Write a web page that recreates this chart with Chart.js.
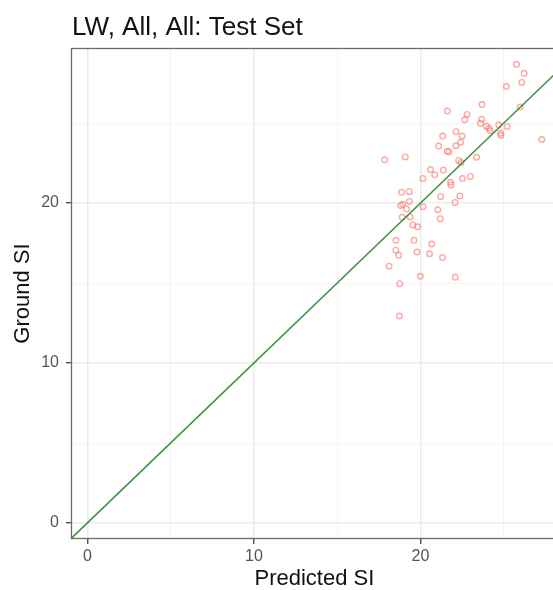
<!DOCTYPE html>
<html>
<head>
<meta charset="utf-8">
<script src="https://cdn.jsdelivr.net/npm/chart.js@4.4.1/dist/chart.umd.min.js"></script>
<style>
    html, body { margin: 0; padding: 0; background: #fff; overflow: hidden; }
    .wrap { width: 553px; height: 590px; overflow: hidden; position: relative; }
    canvas { display: block; }
</style>
</head>
<body>
<div class="wrap"><canvas id="scatter" width="562" height="590"></canvas></div>
<script>
// =========================================================================
// DATA
// =========================================================================
const predicted = [
    25.76, 26.22, 26.08, 25.15, 23.69, 25.98, 21.61, 22.79, 22.66, 23.67,
    23.60, 23.96, 24.11, 24.18, 24.69, 25.20, 24.80, 24.83, 27.28, 22.13,
    21.33, 22.49, 22.41, 22.13, 21.09, 21.60, 21.70, 17.85, 19.08, 22.29,
    22.43, 23.36, 20.60, 21.37, 20.85, 20.14, 21.80, 21.83, 22.52, 22.99,
    18.86, 19.32, 21.21, 22.36, 19.33, 22.07, 18.81, 18.93, 19.17, 20.15,
    21.04, 18.90, 19.38, 21.18, 19.54, 19.83, 18.52, 19.61, 20.67, 18.52,
    18.69, 19.79, 20.54, 21.32, 18.11, 19.99, 22.08, 18.75, 18.73
];
const ground = [
    28.67, 28.11, 27.54, 27.28, 26.16, 26.00, 25.75, 25.54, 25.20, 25.23,
    24.99, 24.80, 24.67, 24.52, 24.89, 24.79, 24.36, 24.23, 23.97, 24.46,
    24.19, 24.19, 23.80, 23.58, 23.56, 23.24, 23.20, 22.70, 22.88, 22.66,
    22.54, 22.86, 22.09, 22.06, 21.76, 21.54, 21.30, 21.13, 21.53, 21.66,
    20.67, 20.71, 20.41, 20.44, 20.10, 20.04, 19.84, 19.92, 19.63, 19.77,
    19.58, 19.11, 19.13, 19.02, 18.63, 18.51, 17.67, 17.67, 17.44, 17.05,
    16.73, 16.94, 16.83, 16.59, 16.05, 15.42, 15.36, 14.96, 12.94
];
const refLine    = [-1, 30];               // y = x identity line ends
const gridTicks  = [0, 5, 10, 15, 20, 25];
const labelTicks = [0, 10, 20];

const xRange = [-0.98, 28.24];
const yRange = [-1.0, 29.69];

// =========================================================================
// STYLE
// =========================================================================
const FONT      = "'Liberation Sans', Arial, sans-serif";
const pointCol  = 'rgba(248,118,109,0.62)';
const lineCol   = '#3f903f';
const majorGrid = '#ebebeb';
const minorGrid = '#f4f4f4';
const tickText  = '#555555';

const isMajor = v => labelTicks.includes(v);

const axisCommon = {
    type: 'linear',
    afterBuildTicks: axis => { axis.ticks = gridTicks.map(v => ({ value: v })); },
    grid: {
        color: c => isMajor(c.tick.value) ? majorGrid : minorGrid,
        lineWidth: c => isMajor(c.tick.value) ? 1.5 : 1,
        tickColor: c => isMajor(c.tick.value) ? '#333' : 'rgba(0,0,0,0)',
        tickWidth: 1.2,
        tickLength: 5,
        drawTicks: true
    },
    border: { display: false },
    ticks: {
        color: tickText,
        font: { family: FONT, size: 16 },
        maxRotation: 0,
        autoSkip: false,
        callback: v => isMajor(v) ? String(v) : ''
    }
};

// panel border + title drawn at the panel's left edge
const panelPlugin = {
    id: 'panel',
    afterDraw(chart) {
        const { ctx, chartArea: a } = chart;
        ctx.save();
        ctx.strokeStyle = '#6a6a6a';
        ctx.lineWidth = 1.3;
        ctx.strokeRect(a.left + 0.5, a.top + 0.5, a.right - a.left - 1, a.bottom - a.top - 1);
        ctx.fillStyle = '#111';
        ctx.font = `26px ${FONT}`;
        ctx.textAlign = 'left';
        ctx.textBaseline = 'alphabetic';
        ctx.fillText('LW, All, All: Test Set', a.left + 1, 35);
        ctx.restore();
    }
};

// =========================================================================
// CHART
// =========================================================================
const initChart = () => {
    if (typeof Chart === 'undefined') return;
    new Chart(document.getElementById('scatter'), {
        type: 'scatter',
        data: {
            datasets: [
                {
                    type: 'line',
                    label: 'identity',
                    data: refLine.map(v => ({ x: v, y: v })),
                    borderColor: lineCol, borderWidth: 1.6,
                    pointRadius: 0, fill: false, tension: 0
                },
                {
                    label: 'Test Set',
                    data: predicted.map((p, i) => ({ x: p, y: ground[i] })),
                    borderColor: pointCol, backgroundColor: 'rgba(0,0,0,0)',
                    borderWidth: 1.4, pointRadius: 2.8, pointHoverRadius: 2.8
                }
            ]
        },
        options: {
            responsive: false,
            animation: false,
            layout: { padding: { top: 48, left: 0, right: 0, bottom: 0 } },
            plugins: { legend: { display: false }, tooltip: { enabled: false } },
            scales: {
                x: {
                    ...axisCommon,
                    min: xRange[0], max: xRange[1],
                    ticks: { ...axisCommon.ticks, padding: 3 },
                    afterFit: s => { s.height = 51; },
                    title: {
                        display: true, text: 'Predicted SI', color: '#111',
                        font: { family: FONT, size: 22, lineHeight: 1 },
                        padding: { top: 0, bottom: 0 }
                    }
                },
                y: {
                    ...axisCommon,
                    min: yRange[0], max: yRange[1],
                    ticks: { ...axisCommon.ticks, padding: 7 },
                    afterFit: s => { s.width = 71; },
                    title: {
                        display: true, text: 'Ground SI', color: '#111',
                        font: { family: FONT, size: 22, lineHeight: 1 },
                        padding: { top: 12, bottom: 0 }
                    }
                }
            }
        },
        plugins: [panelPlugin]
    });
};

document.addEventListener('DOMContentLoaded', initChart);
</script>
</body>
</html>
